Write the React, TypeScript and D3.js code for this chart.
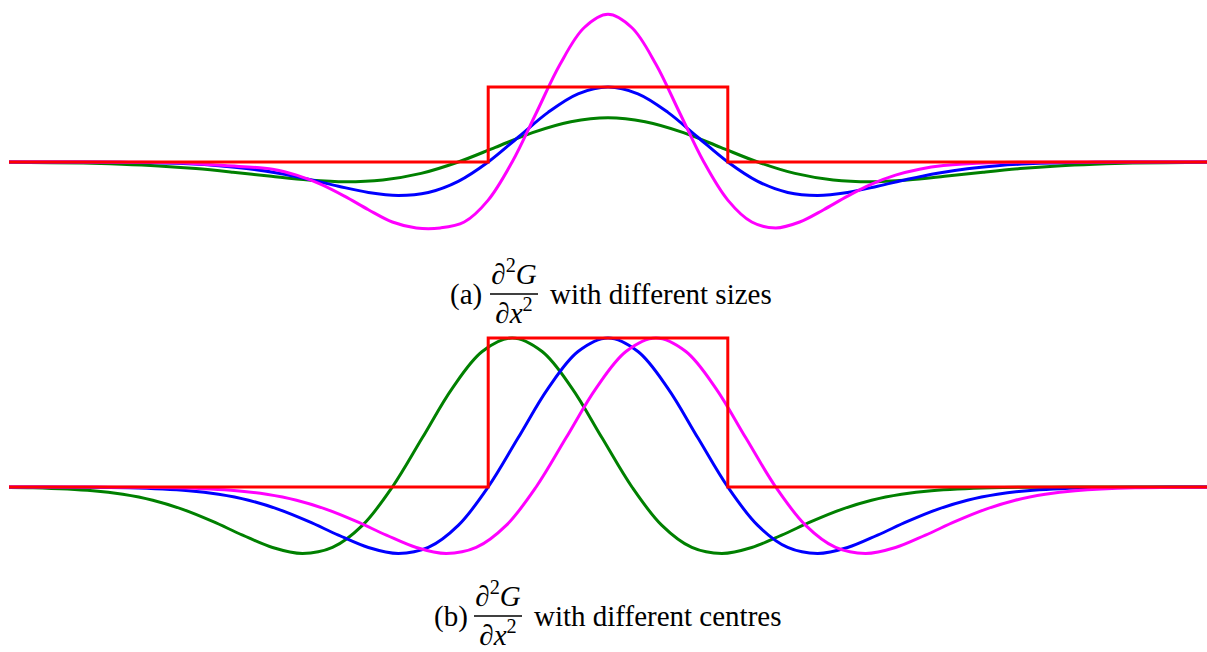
import React from "react";
import * as d3 from "d3";

const W = 1207;
const H = 652;

type Pt = [number, number];

// Panel (a): second-derivative profiles at three widths, same centre
const sizesGreen: Pt[] = [
  [-5, -0.003], [-4.38, -0.015], [-4.06, -0.029], [-3.75, -0.052], [-3.44, -0.088],
  [-3.13, -0.136], [-2.81, -0.191], [-2.5, -0.239], [-2.19, -0.263], [-1.88, -0.239],
  [-1.56, -0.152], [-1.25, 0], [-0.94, 0.195], [-0.63, 0.391], [-0.31, 0.536],
  [0, 0.59],
  [0.31, 0.536], [0.63, 0.391], [0.94, 0.195], [1.25, 0], [1.56, -0.152],
  [1.88, -0.239], [2.19, -0.263], [2.5, -0.239], [2.81, -0.191], [3.13, -0.136],
  [3.44, -0.088], [3.75, -0.052], [4.06, -0.029], [4.38, -0.015], [5, -0.003],
];

const sizesBlue: Pt[] = [
  [-5, 0], [-4.5, -0.001], [-4, -0.005], [-3.5, -0.025], [-3.25, -0.049],
  [-3, -0.089], [-2.75, -0.15], [-2.5, -0.231], [-2.25, -0.323], [-2, -0.406],
  [-1.75, -0.446], [-1.5, -0.406], [-1.25, -0.258], [-1, 0], [-0.75, 0.33],
  [-0.5, 0.662], [-0.25, 0.909], [0, 1],
  [0.25, 0.909], [0.5, 0.662], [0.75, 0.33], [1, 0], [1.25, -0.258],
  [1.5, -0.406], [1.75, -0.446], [2, -0.406], [2.25, -0.323], [2.5, -0.231],
  [2.75, -0.15], [3, -0.089], [3.25, -0.049], [3.5, -0.025], [4, -0.005],
  [4.5, -0.001], [5, 0],
];

const sizesMagenta: Pt[] = [
  [-5, 0], [-4, -0.002], [-3.6, -0.01], [-3.2, -0.048], [-2.8, -0.096],
  [-2.6, -0.175], [-2.4, -0.295], [-2.2, -0.455], [-2, -0.636], [-1.8, -0.8],
  [-1.6, -0.879], [-1.4, -0.879], [-1.2, -0.8], [-1, -0.508], [-0.8, 0],
  [-0.6, 0.65], [-0.4, 1.304], [-0.2, 1.79], [0, 1.97],
  [0.2, 1.79], [0.4, 1.304], [0.6, 0.65], [0.8, 0], [1, -0.508],
  [1.2, -0.8], [1.4, -0.879], [1.6, -0.8], [1.8, -0.636], [2, -0.455],
  [2.2, -0.295], [2.4, -0.175], [2.6, -0.096], [2.8, -0.048], [3.2, -0.01],
  [3.6, -0.002], [5, 0],
];

// Panel (b): equal widths, shifted centres
const centresGreen: Pt[] = [
  [-5, -0.003], [-4.8, -0.005], [-4.3, -0.025], [-4.05, -0.049], [-3.8, -0.089],
  [-3.55, -0.15], [-3.3, -0.231], [-3.05, -0.323], [-2.8, -0.406], [-2.55, -0.446],
  [-2.3, -0.406], [-2.05, -0.258], [-1.8, 0], [-1.55, 0.33], [-1.3, 0.662],
  [-1.05, 0.909], [-0.8, 1], [-0.55, 0.909], [-0.3, 0.662], [-0.05, 0.33],
  [0.2, 0], [0.45, -0.258], [0.7, -0.406], [0.95, -0.446], [1.2, -0.406],
  [1.45, -0.323], [1.7, -0.231], [1.95, -0.15], [2.2, -0.089], [2.45, -0.049],
  [2.7, -0.025], [3.2, -0.005], [3.7, -0.001], [4.2, 0], [5, 0],
];

const centresBlue: Pt[] = sizesBlue;

const centresMagenta: Pt[] = [
  [-5, 0], [-4.6, 0], [-4.1, -0.001], [-3.6, -0.005], [-3.1, -0.025],
  [-2.85, -0.049], [-2.6, -0.089], [-2.35, -0.15], [-2.1, -0.231], [-1.85, -0.323],
  [-1.6, -0.406], [-1.35, -0.446], [-1.1, -0.406], [-0.85, -0.258], [-0.6, 0],
  [-0.35, 0.33], [-0.1, 0.662], [0.15, 0.909], [0.4, 1], [0.65, 0.909],
  [0.9, 0.662], [1.15, 0.33], [1.4, 0], [1.65, -0.258], [1.9, -0.406],
  [2.15, -0.446], [2.4, -0.406], [2.65, -0.323], [2.9, -0.231], [3.15, -0.15],
  [3.4, -0.089], [3.65, -0.049], [3.9, -0.025], [4.4, -0.005], [5, -0.001],
];

// Box (rectangular) profile shared by both panels
const boxX = [-5, -1, -1, 1, 1, 5];
const boxY = [0, 0, 1, 1, 0, 0];

const captionLabels = ["(a)", "(b)"];
const captionTexts = ["with different sizes", "with different centres"];

const COLORS = {
  red: "#ff0000",
  blue: "#0000ff",
  magenta: "#ff00ff",
  green: "#008000",
};

const FONT = "'Liberation Serif', 'Times New Roman', serif";

function Fraction({ cx, barY, size }: { cx: number; barY: number; size: number }) {
  const half = 24;
  return (
    <g fontFamily={FONT} fontSize={size} fill="#000">
      <text x={cx} y={barY - 10} textAnchor="middle">
        <tspan fontStyle="italic">∂</tspan>
        <tspan fontSize={size * 0.7} dy={-12}>2</tspan>
        <tspan fontStyle="italic" dy={12}>G</tspan>
      </text>
      <line x1={cx - half} x2={cx + half} y1={barY} y2={barY} stroke="#000" strokeWidth={1.3} />
      <text x={cx} y={barY + 29} textAnchor="middle">
        <tspan fontStyle="italic">∂x</tspan>
        <tspan fontSize={size * 0.7} dy={-12}>2</tspan>
      </text>
    </g>
  );
}

function Caption({ label, text, x0, baseline }: { label: string; text: string; x0: number; baseline: number }) {
  const size = 29;
  return (
    <g>
      <text x={x0} y={baseline} fontFamily={FONT} fontSize={size} fill="#000">{label}</text>
      <Fraction cx={x0 + 64} barY={baseline - 10} size={size} />
      <text x={x0 + 100} y={baseline} fontFamily={FONT} fontSize={size} fill="#000">{text}</text>
    </g>
  );
}

export default function App() {
  const x = d3.scaleLinear().domain([-5, 5]).range([9, 1207]);
  const yTop = d3.scaleLinear().domain([0, 1]).range([162, 87]);
  const yBot = d3.scaleLinear().domain([0, 1]).range([487, 338]);

  const smooth = (y: d3.ScaleLinear<number, number>) =>
    d3.line<Pt>().x((d) => x(d[0])).y((d) => y(d[1])).curve(d3.curveCatmullRom.alpha(0.5));
  const box = (y: d3.ScaleLinear<number, number>) =>
    d3.line<number>().x((d) => x(d)).y((_, i) => y(boxY[i]))(boxX) ?? "";

  const lineTop = smooth(yTop);
  const lineBot = smooth(yBot);
  const sw = 3;

  return (
    <svg
      width={W}
      height={H}
      viewBox={`0 0 ${W} ${H}`}
      style={{ position: "absolute", left: 0, top: 0, background: "#fff" }}
    >
      <g fill="none" strokeWidth={sw} strokeLinejoin="round">
        <path d={lineTop(sizesGreen) ?? ""} stroke={COLORS.green} />
        <path d={lineTop(sizesBlue) ?? ""} stroke={COLORS.blue} />
        <path d={lineTop(sizesMagenta) ?? ""} stroke={COLORS.magenta} />
        <path d={box(yTop)} stroke={COLORS.red} strokeLinejoin="miter" />
      </g>
      <g fill="none" strokeWidth={sw} strokeLinejoin="round">
        <path d={lineBot(centresGreen) ?? ""} stroke={COLORS.green} />
        <path d={lineBot(centresBlue) ?? ""} stroke={COLORS.blue} />
        <path d={lineBot(centresMagenta) ?? ""} stroke={COLORS.magenta} />
        <path d={box(yBot)} stroke={COLORS.red} strokeLinejoin="miter" />
      </g>
      <Caption label={captionLabels[0]} text={captionTexts[0]} x0={450} baseline={304} />
      <Caption label={captionLabels[1]} text={captionTexts[1]} x0={434} baseline={626} />
    </svg>
  );
}
